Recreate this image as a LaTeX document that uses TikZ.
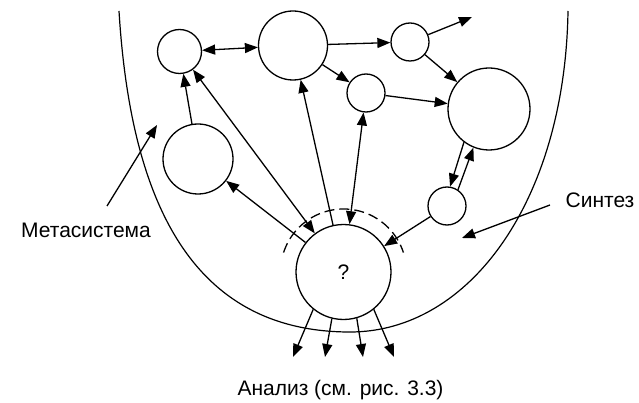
\documentclass[tikz,border=0pt]{standalone}
\usepackage{fontspec}
\setmainfont{Liberation Sans}
\usetikzlibrary{arrows.meta}

\begin{document}
\begin{tikzpicture}[x = 1pt, y = -1pt, line width = 1.3pt,
  >={Triangle[length=13pt,width=10pt]},
  sys/.style = {draw, circle, inner sep=0pt, minimum size=#1},
  lbl/.style = {font=\fontsize{21}{24}\selectfont}]
\useasboundingbox (0, 0) rectangle (639, 403);

% the U of the metasystem
\draw[line width = 1.2pt] (119, 11) .. controls (130, 190) and (185, 332) .. (350, 332)
  .. controls (470, 332) and (565, 200) .. (568, 11);

\node[sys=44] (a) at (179.5, 51.5) {};
\node[sys=69] (b) at (293, 45.5) {};
\node[sys=38] (c) at (410, 42) {};
\node[sys=38] (d) at (366, 93) {};
\node[sys=82] (e) at (489, 109) {};
\node[sys=70] (f) at (198, 159) {};
\node[sys=38] (g) at (447, 206) {};
\node[sys=95, lbl] (h) at (343.5, 272) {?};

\draw[dash pattern = on 10pt off 5pt] (h) ++(198:63) arc (198:342:63);

\draw[<->] (a) -- (b);
\draw[->] (b) -- (c);
\coordinate (cout) at (472, 17);
\draw[->] (c) -- (cout);
\draw[->] (b) -- (d);
\draw[->] (c) -- (e);
\draw[->] (d) -- (e);
\draw[->] (e.233) -- (g.81);
\draw[->] (g.56) -- (e.248);
\draw[->] (g) -- (h);
\draw[<->] (d) -- (h);
\draw[->] (h) -- (b);
\draw[<->] (h) -- (a);
\draw[->] (h) -- (f);
\draw[->] (f) -- (a);

% outputs of the analysis
\coordinate (o1) at (293, 357);
\coordinate (o2) at (325, 357);
\coordinate (o3) at (363, 357);
\coordinate (o4) at (394, 357);
\draw[->] (h.231) -- (o1);
\draw[->] (h.256) -- (o2);
\draw[->] (h.286) -- (o3);
\draw[->] (h.309) -- (o4);

\node[lbl] (meta) at (86, 230) {Метасистема};
\node[lbl] (synth) at (600, 200) {Синтез};
\node[lbl] (anal) at (340.5, 390) {Анализ (см. рис. 3.3)};

\coordinate (metafrom) at (107, 206);
\coordinate (metato) at (157, 125);
\draw[->] (metafrom) -- (metato);
\coordinate (synthfrom) at (550, 205);
\coordinate (synthto) at (462, 238);
\draw[->] (synthfrom) -- (synthto);

\end{tikzpicture}
\end{document}
